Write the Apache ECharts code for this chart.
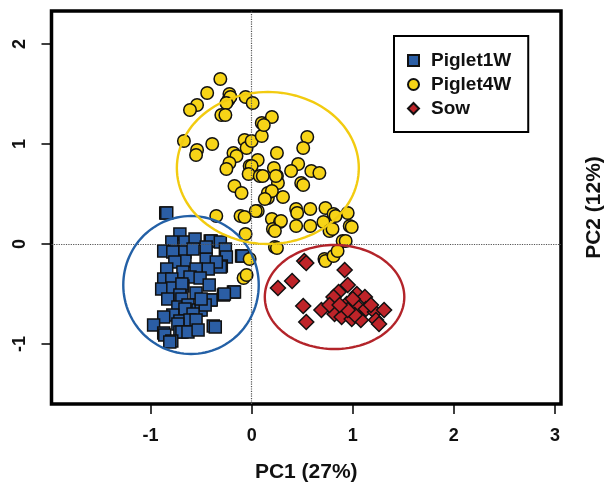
<!DOCTYPE html>
<html>
<head>
<meta charset="utf-8">
<script src="https://cdn.jsdelivr.net/npm/echarts@6/dist/echarts.min.js"></script>
<style>html,body{margin:0;padding:0;background:#fff;}#c{width:609px;height:486px;}</style>
</head>
<body>
<div id="c"></div>
<script>
var seriesNames = ['Piglet1W', 'Piglet4W', 'Sow'];
var xTicks = [-1, 0, 1, 2, 3];
var yTicks = [-1, 0, 1, 2];
var xLabel = 'PC1 (27%)';
var yLabel = 'PC2 (12%)';

var piglet1W = [
  [-0.85,0.31],[-0.84,0.31],[-0.71,0.10],[-0.79,0.02],[-0.66,0.02],[-0.56,0.05],[-0.41,0.03],[-0.40,0.03],
  [-0.87,-0.07],[-0.78,-0.08],[-0.66,-0.08],[-0.66,-0.17],[-0.76,-0.18],[-0.58,-0.05],[-0.45,-0.15],[-0.45,-0.03],
  [-0.31,0.02],[-0.26,-0.05],[-0.25,-0.13],[-0.10,-0.12],[-0.09,-0.12],[-0.30,-0.22],[-0.31,-0.23],[-0.35,-0.18],
  [-0.43,-0.25],[-0.55,-0.25],[-0.68,-0.28],[-0.84,-0.25],[-0.87,-0.35],[-0.79,-0.35],[-0.61,-0.33],
  [-0.89,-0.45],[-0.78,-0.44],[-0.68,-0.42],[-0.69,-0.40],[-0.51,-0.34],[-0.42,-0.41],[-0.55,-0.49],
  [-0.71,-0.51],[-0.83,-0.55],[-0.69,-0.55],[-0.73,-0.63],[-0.63,-0.61],[-0.66,-0.65],[-0.41,-0.56],
  [-0.40,-0.56],[-0.28,-0.51],[-0.18,-0.48],[-0.17,-0.48],[-0.27,-0.50],[-0.53,-0.66],[-0.50,-0.66],
  [-0.46,-0.61],[-0.50,-0.55],[-0.58,-0.70],[-0.78,-0.71],[-0.87,-0.73],[-0.71,-0.77],[-0.61,-0.76],
  [-0.55,-0.76],[-0.97,-0.81],[-0.73,-0.80],[-0.38,-0.82],[-0.36,-0.83],[-0.87,-0.89],[-0.86,-0.91],
  [-0.71,-0.88],[-0.69,-0.88],[-0.63,-0.88],[-0.53,-0.86],[-0.79,-0.97],[-0.81,-0.98]
];

var piglet4W = [
  [-0.31,1.65],[-0.44,1.51],[-0.54,1.39],[-0.61,1.34],[-0.22,1.50],[-0.23,1.44],[-0.21,1.47],[-0.25,1.41],
  [-0.06,1.47],[0.01,1.41],[-0.30,1.29],[-0.26,1.29],
  [-0.67,1.03],[-0.54,0.94],[-0.55,0.89],[-0.39,1.00],[-0.07,1.04],[-0.05,0.96],[0.00,1.03],[-0.18,0.91],
  [-0.15,0.88],[0.10,1.21],[0.20,1.27],[0.10,1.08],[0.12,1.19],[0.25,0.91],[0.06,0.84],[-0.22,0.81],
  [0.55,1.07],[0.51,0.96],[0.46,0.80],[0.39,0.73],[0.59,0.73],[0.67,0.71],[0.25,0.68],[0.26,0.61],
  [0.49,0.61],[0.51,0.59],[0.16,0.46],[0.31,0.47],[0.44,0.35],[0.45,0.31],[0.58,0.35],[0.73,0.36],
  [0.81,0.30],[0.95,0.31],[0.20,0.25],[0.28,0.22],[0.21,0.15],[0.44,0.18],[0.58,0.18],[0.71,0.22],
  [0.77,0.13],[0.97,0.18],[0.90,0.03],[0.80,0.15],[0.83,0.28],[0.99,0.17],
  [-0.25,0.75],[-0.02,0.78],[0.00,0.78],[-0.03,0.70],[0.08,0.68],[0.11,0.68],[0.22,0.76],[0.24,0.68],
  [-0.17,0.58],[-0.10,0.51],[0.16,0.51],[0.20,0.53],[0.13,0.45],[0.06,0.33],[0.04,0.33],[-0.35,0.28],
  [-0.11,0.28],[-0.07,0.27],[-0.06,0.10],[0.23,-0.03],[0.25,-0.04],[0.29,0.23],[0.23,0.13],
  [-0.08,-0.34],[-0.05,-0.31],[-0.02,-0.15],[0.72,-0.15],[0.73,-0.17],[0.81,-0.12],[0.85,-0.07],[0.93,0.03]
];

var sow = [
  [0.52,-0.17],[0.54,-0.19],[0.26,-0.44],[0.40,-0.37],[0.92,-0.26],[0.95,-0.41],[0.86,-0.48],[0.81,-0.53],
  [1.04,-0.50],[0.94,-0.60],[0.82,-0.70],[0.89,-0.73],[0.99,-0.75],[1.05,-0.63],[1.12,-0.53],[1.13,-0.65],
  [1.22,-0.68],[1.23,-0.76],[1.31,-0.66],[1.26,-0.80],[1.08,-0.76],[0.51,-0.62],[0.69,-0.66],[0.54,-0.78],
  [1.02,-0.71],[0.95,-0.66],[0.77,-0.61],[0.87,-0.61],[1.18,-0.61],[1.00,-0.55]
];

// confidence ellipses: [centerX, centerY, radiusX, radiusY]
var ellipse1W = [-0.60, -0.41, 0.67, 0.69];
var ellipse4W = [0.16, 0.76, 0.90, 0.76];
var ellipseSow = [0.82, -0.53, 0.69, 0.52];

var fillColors = ['#2B5EA5', '#F7D417', '#BE2429'];
var ringColors = ['#2360A6', '#F2CB10', '#B3242A'];

function ellipseSeries(name, params, color) {
  return {
    type: 'custom',
    name: name,
    silent: true,
    z: 5,
    data: [params],
    renderItem: function (p, api) {
      var cx = api.value(0), cy = api.value(1), rx = api.value(2), ry = api.value(3);
      var pts = [];
      var n = 120;
      for (var i = 0; i < n; i++) {
        var t = 2 * Math.PI * i / n;
        pts.push(api.coord([cx + rx * Math.cos(t), cy + ry * Math.sin(t)]));
      }
      return {
        type: 'polygon',
        shape: { points: pts },
        style: { fill: 'none', stroke: color, lineWidth: 2.4 }
      };
    }
  };
}

var chart = echarts.init(document.getElementById('c'), null, { renderer: 'canvas' });
var fontFam = '"Liberation Sans", Arial, Helvetica, sans-serif';

chart.setOption({
  animation: false,
  backgroundColor: '#fff',
  grid: { left: 51.5, right: 48, top: 11, bottom: 82, show: true, borderColor: '#000', borderWidth: 3.5, backgroundColor: 'transparent', outerBoundsMode: 'none', containLabel: false },
  legend: {
    data: [
      { name: seriesNames[0], icon: 'rect' },
      { name: seriesNames[1], icon: 'circle' },
      { name: seriesNames[2], icon: 'diamond' }
    ],
    orient: 'vertical',
    left: 394,
    top: 36,
    itemWidth: 11,
    itemHeight: 11,
    itemGap: 5,
    padding: [15, 17, 14, 13],
    borderColor: '#000',
    borderWidth: 2,
    backgroundColor: '#fff',
    textStyle: { fontFamily: fontFam, fontWeight: 'bold', fontSize: 19, color: '#111', padding: [0, 0, 0, 7] }
  },
  xAxis: {
    type: 'value',
    min: -1.98,
    max: 3.06,
    position: 'bottom',
    name: xLabel,
    nameLocation: 'middle',
    nameGap: 58,
    nameTextStyle: { fontFamily: fontFam, fontWeight: 'bold', fontSize: 21, color: '#111' },
    axisLine: { show: false, onZero: false },
    splitLine: { show: false },
    axisTick: { show: true, customValues: xTicks, length: 10, lineStyle: { color: '#000', width: 1.5 } },
    axisLabel: { customValues: xTicks, margin: 23, fontFamily: fontFam, fontWeight: 'bold', fontSize: 18, color: '#111' }
  },
  yAxis: [{
    type: 'value',
    min: -1.6,
    max: 2.33,
    position: 'left',
    axisLine: { show: false, onZero: false },
    splitLine: { show: false },
    axisTick: { show: true, customValues: yTicks, length: 10, lineStyle: { color: '#000', width: 1.5 } },
    axisLabel: { customValues: yTicks, rotate: 90, margin: 22, fontFamily: fontFam, fontWeight: 'bold', fontSize: 18, color: '#111' }
  }, {
    type: 'value',
    min: -1.6,
    max: 2.33,
    position: 'right',
    name: yLabel,
    nameLocation: 'middle',
    nameRotate: 90,
    nameGap: 23,
    nameTextStyle: { fontFamily: fontFam, fontWeight: 'bold', fontSize: 21, color: '#111' },
    axisLine: { show: false, onZero: false },
    axisTick: { show: false },
    axisLabel: { show: false },
    splitLine: { show: false }
  }],
  series: [
    {
      type: 'scatter', name: seriesNames[0], data: piglet1W, symbol: 'rect', symbolSize: 12, z: 3,
      itemStyle: { color: fillColors[0], borderColor: '#111', borderWidth: 1.5, opacity: 1 },
      markLine: {
        silent: true, symbol: 'none', label: { show: false },
        lineStyle: { color: '#555', type: 'dotted', width: 1.2 },
        data: [{ xAxis: 0 }, { yAxis: 0 }]
      }
    },
    {
      type: 'scatter', name: seriesNames[1], data: piglet4W, symbol: 'circle', symbolSize: 12.5, z: 3,
      itemStyle: { color: fillColors[1], borderColor: '#111', borderWidth: 1.5, opacity: 1 }
    },
    {
      type: 'scatter', name: seriesNames[2], data: sow, symbol: 'diamond', symbolSize: 15, z: 3,
      itemStyle: { color: fillColors[2], borderColor: '#111', borderWidth: 1.5, opacity: 1 }
    },
    ellipseSeries('e1', ellipse1W, ringColors[0]),
    ellipseSeries('e2', ellipse4W, ringColors[1]),
    ellipseSeries('e3', ellipseSow, ringColors[2])
  ]
});
</script>
</body>
</html>
